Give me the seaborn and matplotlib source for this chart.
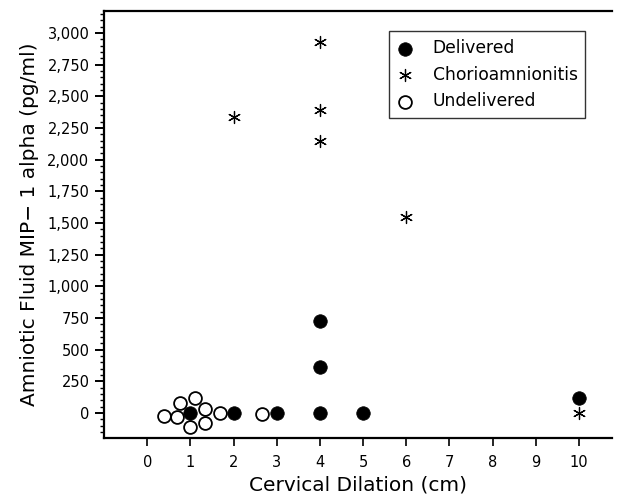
import matplotlib
matplotlib.use("Agg")
import matplotlib.pyplot as plt
import seaborn as sns
from matplotlib.ticker import FuncFormatter, MultipleLocator

# values
delivered_x = [1, 2, 3, 4, 4, 4, 5, 10]
delivered_y = [0, 0, 0, 0, 360, 730, 0, 115]

chorio_x = [2, 4, 4, 4, 6, 10]
chorio_y = [2335, 2925, 2390, 2150, 1545, 0]

undelivered_x = [0.38, 0.69, 0.75, 1.11, 1.33, 1.33, 1.0, 1.69, 2.65]
undelivered_y = [-24, -29, 81, 121, 29, -76, -108, 2, -10]

x_ticks = list(range(0, 11))
y_ticks = list(range(0, 3001, 250))

sns.set_style("white")
plt.rcParams["font.family"] = ["DejaVu Sans"]
plt.rcParams["text.color"] = "black"
plt.rcParams["axes.labelcolor"] = "black"

fig = plt.figure(figsize=(6.17, 4.98), dpi=100)
ax = fig.add_axes([0.1686, 0.1205, 0.8234, 0.8575])

sns.scatterplot(x=undelivered_x, y=undelivered_y, ax=ax, marker="o", s=85,
                facecolor="white", edgecolor="black", linewidth=1.3,
                label="Undelivered", zorder=2)
sns.scatterplot(x=delivered_x, y=delivered_y, ax=ax, marker="o", s=95,
                color="black", edgecolor="black", linewidth=0.5,
                label="Delivered", zorder=3)
sns.scatterplot(x=chorio_x, y=chorio_y, ax=ax, marker=(6, 2, 0), s=75,
                color="black", edgecolor="black", linewidth=0.9,
                label="Chorioamnionitis", zorder=3)

ax.set_xlim(-1, 10.77)
ax.set_ylim(-197, 3174)
ax.set_xticks(x_ticks)
ax.set_yticks(y_ticks)
ax.yaxis.set_minor_locator(MultipleLocator(50))
ax.yaxis.set_major_formatter(FuncFormatter(lambda v, p: f"{v:,.0f}"))

for side in ["left", "bottom", "top"]:
    ax.spines[side].set_linewidth(1.6)
    ax.spines[side].set_color("black")
ax.spines["right"].set_visible(False)

ax.tick_params(axis="x", which="major", direction="out", length=6, width=1.2,
               labelsize=10.5, pad=6, colors="black", bottom=True)
ax.tick_params(axis="y", which="major", direction="out", length=6.5, width=1.4,
               labelsize=10.5, pad=4, colors="black", left=True)
ax.tick_params(axis="y", which="minor", direction="out", length=3, width=1.0,
               left=True, colors="black")

ax.set_xlabel("Cervical Dilation (cm)", fontsize=14.5, labelpad=4)
ax.set_ylabel("Amniotic Fluid MIP\u2212 1 alpha (pg/ml)", fontsize=14.5,
              labelpad=6)

handles, labels = ax.get_legend_handles_labels()
order = [labels.index(n) for n in ["Delivered", "Chorioamnionitis", "Undelivered"]]
leg = ax.legend([handles[i] for i in order], [labels[i] for i in order],
                loc="upper left", bbox_to_anchor=(0.561, 0.952), fontsize=12.3,
                frameon=True, fancybox=False, edgecolor="black",
                borderpad=0.45, labelspacing=0.5, handletextpad=1.1,
                handlelength=1.0, borderaxespad=0)
leg.get_frame().set_linewidth(1.0)

fig.savefig("out.png", dpi=100)
